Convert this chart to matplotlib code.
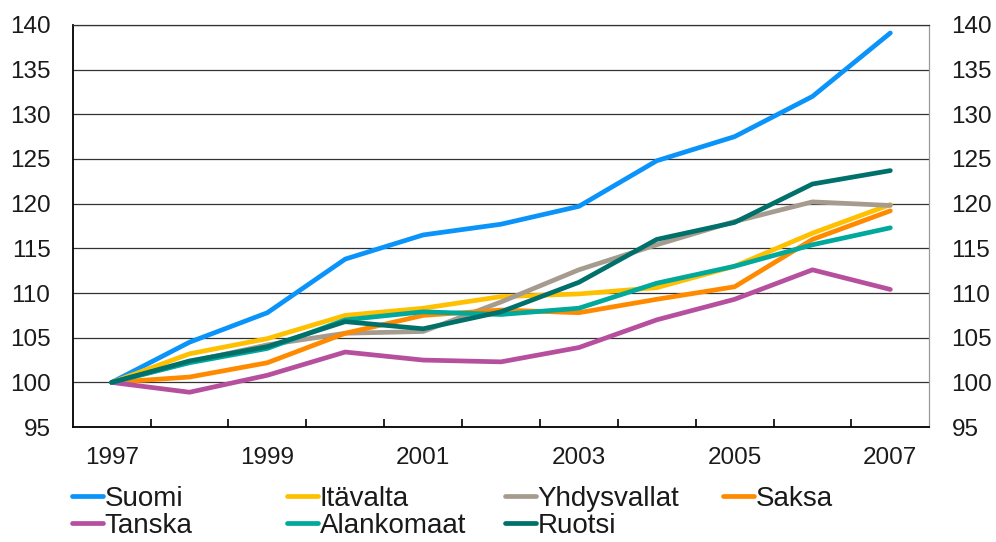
import matplotlib
matplotlib.use('Agg')
import matplotlib.pyplot as plt
import numpy as np

years = [1997, 1998, 1999, 2000, 2001, 2002, 2003, 2004, 2005, 2006, 2007]

suomi = [100, 104.5, 107.8, 113.8, 116.5, 117.7, 119.7, 124.8, 127.5, 132.0, 139.1]
itavalta = [100, 103.2, 104.9, 107.5, 108.3, 109.6, 109.9, 110.6, 113.0, 116.7, 119.9]
yhdysvallat = [100, 102.3, 104.2, 105.5, 105.7, 109.0, 112.6, 115.4, 118.0, 120.2, 119.8]
saksa = [100, 100.6, 102.2, 105.5, 107.5, 108.1, 107.8, 109.3, 110.7, 116.0, 119.2]
tanska = [100, 98.9, 100.8, 103.4, 102.5, 102.3, 103.9, 107.0, 109.3, 112.6, 110.4]
alankomaat = [100, 102.2, 103.8, 107.0, 107.9, 107.6, 108.3, 111.1, 113.0, 115.4, 117.3]
ruotsi = [100, 102.4, 104.0, 106.8, 106.0, 107.9, 111.2, 116.0, 117.9, 122.2, 123.7]

series = [
    ("Suomi", suomi, "#0A94FA"),
    ("Itävalta", itavalta, "#FFC000"),
    ("Yhdysvallat", yhdysvallat, "#A69B8F"),
    ("Saksa", saksa, "#FF8A00"),
    ("Tanska", tanska, "#B6509E"),
    ("Alankomaat", alankomaat, "#00A99C"),
    ("Ruotsi", ruotsi, "#00706A"),
]

plt.rcParams['font.family'] = ['Liberation Sans', 'DejaVu Sans']
plt.rcParams['text.color'] = '#1a1a1a'

fig = plt.figure(figsize=(9.96, 5.42), dpi=100)
ax = fig.add_axes([0.073, 0.212, 0.860, 0.742])

x = np.arange(len(years))
lines = {}
for name, vals, col in series:
    ln, = ax.plot(x, vals, color=col, lw=3.4, label=name, solid_capstyle='round',
                  solid_joinstyle='round', zorder=3)
    lines[name] = ln

ax.set_xlim(-0.5, len(years) - 0.5)
ax.set_ylim(95, 140)
ax.set_yticks(np.arange(95, 141, 5))
ax.yaxis.grid(True, color='#333333', lw=0.9)
ax.set_axisbelow(True)

# ticks between categories, labels every other year
ax.set_xticks(x[:-1] + 0.5)
ax.set_xticklabels([])
ax.set_xticks(x[::2], minor=True)
ax.set_xticklabels([str(y) for y in years[::2]], minor=True)
ax.tick_params(axis='x', which='major', direction='in', length=6, width=1.2, color='black')
ax.tick_params(axis='x', which='minor', length=0, pad=14, labelsize=17.5, labelcolor='#1a1a1a')
ax.tick_params(axis='y', length=0, labelsize=17.5, labelright=True, pad=16, labelcolor='#1a1a1a')

for side in ['left', 'bottom']:
    ax.spines[side].set_linewidth(1.3)
    ax.spines[side].set_color('black')
ax.spines['top'].set_color('#333333')
ax.spines['top'].set_linewidth(0.9)
ax.spines['right'].set_color('#999999')
ax.spines['right'].set_linewidth(0.9)

# legend: four fixed-width columns, filled row by row
columns = [["Suomi", "Tanska"], ["Itävalta", "Alankomaat"], ["Yhdysvallat", "Ruotsi"], ["Saksa"]]
col_x = [72, 287, 505, 723]
for names, px in zip(columns, col_x):
    fig.legend([lines[n] for n in names], names, loc='upper left',
               bbox_to_anchor=(px / 996, 1 - 486 / 542), frameon=False,
               fontsize=20, handlelength=1.1, handletextpad=0.07,
               labelspacing=0.04, borderaxespad=0, borderpad=0)

fig.savefig('out.png', dpi=100, facecolor='white')
